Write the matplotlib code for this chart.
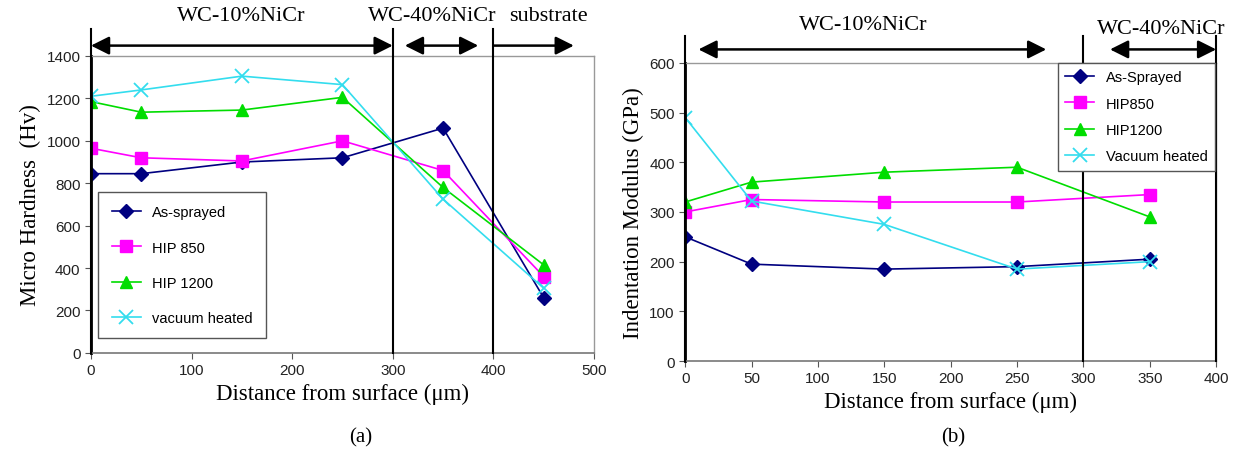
import matplotlib
matplotlib.use("Agg")
import matplotlib.pyplot as plt
import matplotlib.transforms as mtransforms

plt.rcParams['font.family'] = ['Liberation Sans', 'DejaVu Sans']
SERIF = ['Liberation Serif', 'DejaVu Serif']

# ---- data, panel (a): micro hardness ----
dist_a = [0, 50, 150, 250, 350, 450]
hv_as_sprayed = [845, 845, 900, 920, 1060, 260]
hv_hip850 = [965, 920, 905, 1000, 860, 360]
hv_hip1200 = [1185, 1135, 1145, 1205, 780, 415]
hv_vacuum = [1210, 1240, 1305, 1265, 725, 305]
labels_a = ['As-sprayed', 'HIP 850', 'HIP 1200', 'vacuum heated']

# ---- data, panel (b): indentation modulus ----
dist_b = [0, 50, 150, 250, 350]
e_as_sprayed = [250, 195, 185, 190, 205]
e_hip850 = [300, 325, 320, 320, 335]
e_hip1200 = [320, 360, 380, 390, 290]
e_vacuum = [490, 322, 275, 185, 200]
labels_b = ['As-Sprayed', 'HIP850', 'HIP1200', 'Vacuum heated']

styles = [
    dict(color='#000080', marker='D', markersize=7),
    dict(color='#FF00FF', marker='s', markersize=9),
    dict(color='#00DD00', marker='^', markersize=9),
    dict(color='#33DDEE', marker='x', markersize=10, markeredgewidth=1.3),
]


def style_axes(ax, xmax, xstep, ymax, ystep):
    ax.set_xlim(0, xmax)
    ax.set_ylim(0, ymax)
    ax.set_xticks(range(0, xmax + 1, xstep))
    ax.set_yticks(range(0, ymax + 1, ystep))
    for s in ['top', 'right']:
        ax.spines[s].set_color('#999999')
        ax.spines[s].set_linewidth(1.0)
    ax.spines['bottom'].set_color('#777777')
    ax.spines['bottom'].set_linewidth(1.2)
    ax.spines['left'].set_color('black')
    ax.spines['left'].set_linewidth(2.0)
    ax.tick_params(labelsize=11, length=4, color='#555555', labelcolor='#222222')


def bracket(ax, x0, x1, y, left=True, right=True):
    style = '<|-|>' if (left and right) else ('-|>' if right else '<|-')
    ax.annotate('', xy=(x1, y), xytext=(x0, y),
                xycoords=('data', 'axes fraction'),
                textcoords=('data', 'axes fraction'),
                arrowprops=dict(arrowstyle=style + ',head_length=1.1,head_width=0.55',
                                color='black', lw=1.8, shrinkA=0, shrinkB=0))


def vline(ax, x, top):
    trans = mtransforms.blended_transform_factory(ax.transData, ax.transAxes)
    ax.plot([x, x], [0, top], transform=trans, color='black', lw=1.5, clip_on=False, zorder=3)


def region_label(ax, x, y, s):
    trans = mtransforms.blended_transform_factory(ax.transData, ax.transAxes)
    ax.text(x, y, s, transform=trans, ha='left', va='center', family=SERIF, fontsize=16)


fig = plt.figure(figsize=(12.39, 4.56), dpi=100)
ax1 = fig.add_axes([0.0734, 0.224, 0.406, 0.651])
ax2 = fig.add_axes([0.553, 0.206, 0.4286, 0.654])

# ---- panel (a) ----
for ys, lab, st in zip([hv_as_sprayed, hv_hip850, hv_hip1200, hv_vacuum], labels_a, styles):
    ax1.plot(dist_a, ys, label=lab, lw=1.2, **st)
style_axes(ax1, 500, 100, 1400, 200)
for x in [0, 300, 400]:
    vline(ax1, x, 1.09)
bracket(ax1, 0, 300, 1.035)
bracket(ax1, 312, 385, 1.035)
bracket(ax1, 400, 480, 1.035, left=False)
region_label(ax1, 86, 1.135, 'WC-10%NiCr')
region_label(ax1, 275, 1.135, 'WC-40%NiCr')
region_label(ax1, 416, 1.135, 'substrate')
ax1.set_xlabel('Distance from surface (\u03bcm)', family=SERIF, fontsize=16.5)
ax1.set_ylabel('Micro Hardness  (Hv)', family=SERIF, fontsize=16.5)
leg1 = ax1.legend(loc='lower left', bbox_to_anchor=(0.015, 0.05), fontsize=10.5, labelspacing=1.45,
                  handlelength=2.0, borderpad=0.9, fancybox=False, framealpha=1, borderaxespad=0)
leg1.get_frame().set_edgecolor('#555555')

# ---- panel (b) ----
for ys, lab, st in zip([e_as_sprayed, e_hip850, e_hip1200, e_vacuum], labels_b, styles):
    ax2.plot(dist_b, ys, label=lab, lw=1.2, **st)
style_axes(ax2, 400, 50, 600, 100)
for x in [0, 300, 400]:
    vline(ax2, x, 1.09)
bracket(ax2, 10, 272, 1.045)
bracket(ax2, 320, 400, 1.045)
region_label(ax2, 86, 1.13, 'WC-10%NiCr')
region_label(ax2, 310, 1.115, 'WC-40%NiCr')
ax2.set_xlabel('Distance from surface (\u03bcm)', family=SERIF, fontsize=16.5)
ax2.set_ylabel('Indentation Modulus (GPa)', family=SERIF, fontsize=16.5)
leg2 = ax2.legend(loc='upper right', bbox_to_anchor=(0.998, 1.0), fontsize=10.5, labelspacing=0.85,
                  handlelength=2.0, borderpad=0.5, fancybox=False, framealpha=1, borderaxespad=0)
leg2.get_frame().set_edgecolor('#555555')
leg2.set_zorder(10)

fig.text(0.291, 0.04, '(a)', ha='center', va='center', family=SERIF, fontsize=15)
fig.text(0.769, 0.04, '(b)', ha='center', va='center', family=SERIF, fontsize=15)

fig.savefig('out.png', dpi=100)
